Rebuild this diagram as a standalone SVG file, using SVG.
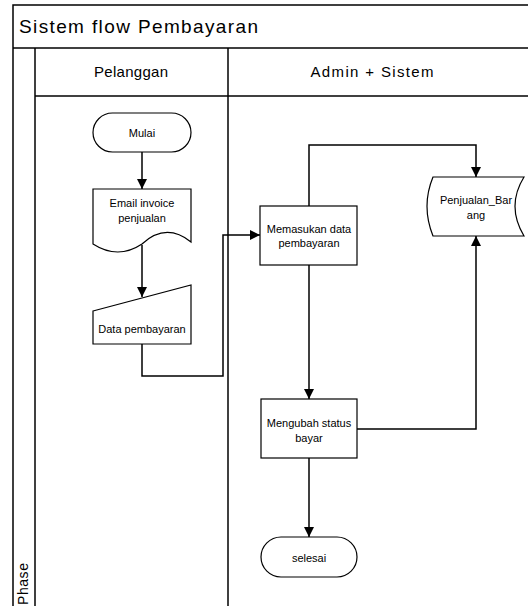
<svg xmlns="http://www.w3.org/2000/svg" width="528" height="606" viewBox="0 0 528 606">
<defs>
<style>
.frame{fill:none;stroke:#000;stroke-width:1.5}
.shape{fill:#fff;stroke:#000;stroke-width:1.2}
.conn{fill:none;stroke:#000;stroke-width:1.5}
.t{font-family:"Liberation Sans",Arial,sans-serif;font-size:11px;fill:#000;text-anchor:middle}
.lane{font-family:"Liberation Sans",Arial,sans-serif;font-size:15px;fill:#000;text-anchor:middle}
</style>
<marker id="arr" viewBox="0 0 10 10" refX="10" refY="5" markerWidth="10" markerHeight="10" markerUnits="userSpaceOnUse" orient="auto">
<path d="M0,0 L10,5 L0,10 Z" fill="#000"/>
</marker>
</defs>
<rect x="0" y="0" width="528" height="606" fill="#fff"/>
<g id="pool">
<path class="frame" d="M530,5 H13 V606"/>
<line class="frame" x1="13" y1="48" x2="530" y2="48"/>
<line class="frame" x1="35" y1="48" x2="35" y2="606"/>
<line class="frame" x1="35" y1="96" x2="530" y2="96" stroke="#333"/>
<line class="frame" x1="228" y1="48" x2="228" y2="606"/>
<text x="19" y="33" font-family="'Liberation Sans',Arial,sans-serif" font-size="19" textLength="239" lengthAdjust="spacing">Sistem flow Pembayaran</text>
<text class="lane" x="131" y="77" textLength="74" lengthAdjust="spacing">Pelanggan</text>
<text class="lane" x="372" y="77" textLength="123" lengthAdjust="spacing">Admin + Sistem</text>
<text x="28" y="605" transform="rotate(-90 28 605)" font-family="'Liberation Sans',Arial,sans-serif" font-size="14" textLength="42" lengthAdjust="spacing">Phase</text>
</g>
<g id="connectors">
<line class="conn" x1="142" y1="152" x2="142" y2="189" marker-end="url(#arr)"/>
<line class="conn" x1="142" y1="245" x2="142" y2="297" marker-end="url(#arr)"/>
<path class="conn" d="M142,344 V376 H223 V235 H260" marker-end="url(#arr)"/>
<path class="conn" d="M309,206 V145 H476 V177" marker-end="url(#arr)"/>
<line class="conn" x1="309" y1="265" x2="309" y2="399" marker-end="url(#arr)"/>
<path class="conn" d="M357,429 H476 V236" marker-end="url(#arr)"/>
<line class="conn" x1="309" y1="458" x2="309" y2="537" marker-end="url(#arr)"/>
</g>
<g id="mulai">
<rect class="shape" x="93" y="113" width="98" height="39" rx="19.5"/>
<text class="t" x="142" y="137">Mulai</text>
</g>
<g id="email">
<path class="shape" d="M93,189 H191 V242 Q166,222 142,244 Q118,260 93,244 Z"/>
<text class="t" x="142" y="207">Email invoice</text>
<text class="t" x="142" y="222">penjualan</text>
</g>
<g id="data-pembayaran">
<path class="shape" d="M93,311 L191,285 V344 H93 Z"/>
<text class="t" x="142" y="333">Data pembayaran</text>
</g>
<g id="memasukan">
<rect class="shape" x="260" y="206" width="97" height="59"/>
<text class="t" x="309" y="233">Memasukan data</text>
<text class="t" x="309" y="247">pembayaran</text>
</g>
<g id="penjualan-barang">
<path class="shape" d="M433,177 H524 Q506,206 524,236 H433 Q421,206 433,177 Z"/>
<text class="t" x="476" y="204">Penjualan_Bar</text>
<text class="t" x="476" y="219">ang</text>
</g>
<g id="mengubah">
<rect class="shape" x="261" y="399" width="96" height="59"/>
<text class="t" x="309" y="427">Mengubah status</text>
<text class="t" x="309" y="442">bayar</text>
</g>
<g id="selesai">
<rect class="shape" x="261" y="537" width="96" height="40" rx="20"/>
<text class="t" x="309" y="562">selesai</text>
</g>
</svg>
